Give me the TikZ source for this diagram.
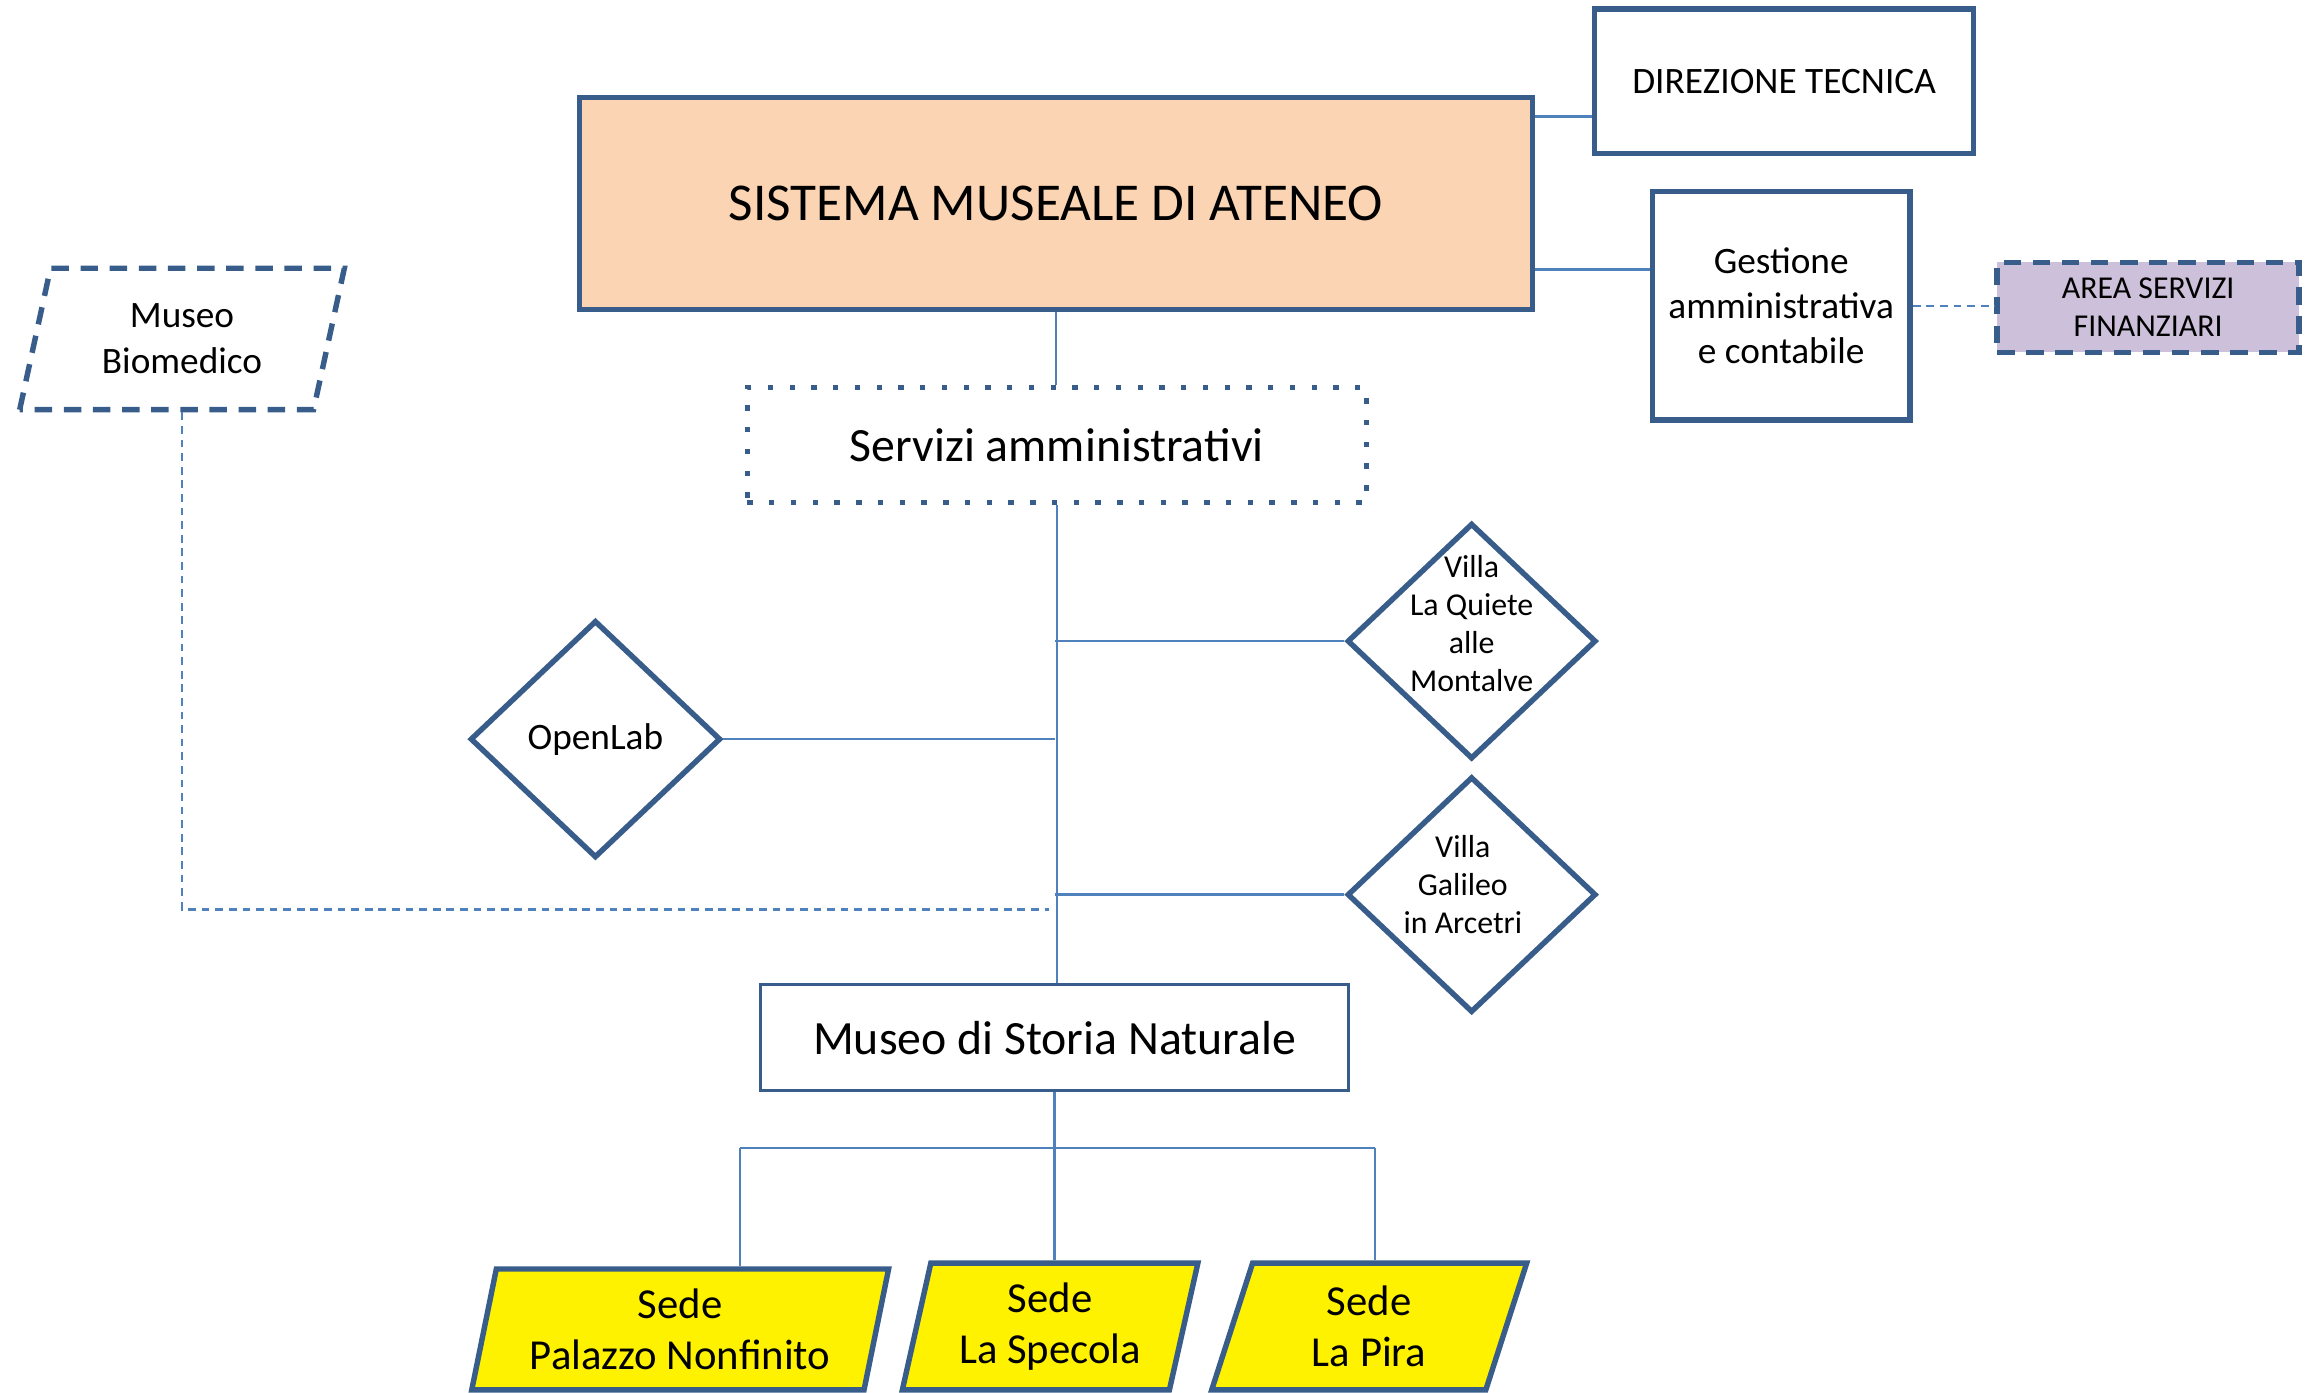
\documentclass[tikz,border=0pt]{standalone}
\usepackage{fontspec}
\setmainfont{Carlito}
\usepackage{tikz}
\usetikzlibrary{positioning}
\usetikzlibrary{calc}
\usetikzlibrary{shapes.geometric}

\definecolor{bordoBlu}{RGB}{56,93,138}
\definecolor{lineaBlu}{RGB}{79,129,189}
\definecolor{pesca}{RGB}{250,212,179}
\definecolor{lilla}{RGB}{204,192,218}

\tikzset{
	box/.style={draw=bordoBlu, line width=1.4pt, rectangle, align=center, inner sep=2pt},
	rombo/.style={draw=bordoBlu, line width=1.4pt, diamond, inner sep=0pt, align=center},
	sede/.style={draw=bordoBlu, line width=1.4pt, fill=yellow, trapezium,
		trapezium left angle=76, trapezium right angle=104, trapezium stretches=true,
		align=center, inner sep=0pt, font=\fontsize{11}{13}\selectfont},
	tratteggio/.style={dash pattern=on 4.5pt off 3pt},
	link/.style={draw=lineaBlu, line width=0.6pt},
	linkTratt/.style={link, dash pattern=on 2pt off 1.5pt}
}

\begin{document}
\begin{tikzpicture}[x=0.0133333cm, y=-0.0133333cm]
\useasboundingbox (0,0) rectangle (1568,945);

\node[
	box,
	fill=pesca,
	minimum width=8.627cm,
	minimum height=1.92cm,
	font=\fontsize{13.7}{16}\selectfont
] (main) at (716.5,138) {SISTEMA MUSEALE DI ATENEO};

\node[
	box,
	minimum width=3.427cm,
	minimum height=1.307cm,
	font=\fontsize{9.6}{11.5}\selectfont
] (direzione) at (1210.5,55) {DIREZIONE TECNICA};

\node[
	box,
	minimum width=2.333cm,
	minimum height=2.067cm,
	font=\fontsize{9.6}{11.5}\selectfont
] (gestione) at (1208.5,207.5) {Gestione\\amministrativa\\e contabile};

\node[
	box,
	tratteggio,
	fill=lilla,
	minimum width=2.733cm,
	minimum height=0.813cm,
	font=\fontsize{8.2}{9.6}\selectfont
] (area) at (1457.5,208.5) {AREA SERVIZI\\FINANZIARI};

\node[
	draw=bordoBlu,
	line width=1.4pt,
	tratteggio,
	trapezium,
	trapezium left angle=75,
	trapezium right angle=105,
	trapezium stretches=true,
	inner sep=0pt,
	align=center,
	minimum width=2.947cm,
	minimum height=1.28cm,
	font=\fontsize{9.6}{11.8}\selectfont
] (biomedico) at (123.5,230) {Museo\\Biomedico};

\node[
	box,
	dash pattern=on 1.4pt off 4.2pt,
	minimum width=5.6cm,
	minimum height=1.04cm,
	font=\fontsize{12.3}{14.5}\selectfont
] (servizi) at (717,302) {Servizi amministrativi};

\node[
	rombo,
	minimum width=2.267cm,
	minimum height=2.147cm,
	font=\fontsize{9.6}{11.5}\selectfont
] (openlab) at (404,501.5) {OpenLab};

\node[
	rombo,
	minimum width=2.253cm,
	minimum height=2.133cm,
	label={[font=\fontsize{8.2}{9.8}\selectfont, align=center, yshift=0.16cm]center:Villa\\La Quiete\\alle\\Montalve}
] (quiete) at (998.5,435) {};

\node[
	rombo,
	minimum width=2.253cm,
	minimum height=2.133cm,
	label={[font=\fontsize{8.2}{9.8}\selectfont, align=center, xshift=-0.08cm, yshift=0.09cm]center:Villa\\Galileo\\in Arcetri}
] (galileo) at (998.5,607) {};

\node[
	box,
	line width=0.8pt,
	minimum width=5.32cm,
	minimum height=0.96cm,
	font=\fontsize{12.3}{14.5}\selectfont
] (storia) at (715.5,704) {Museo di Storia Naturale};

\node[
	sede,
	minimum width=3.773cm,
	minimum height=1.093cm
] (palazzo) at (461.5,902) {Sede\\Palazzo Nonfinito};

\node[
	sede,
	minimum width=2.68cm,
	minimum height=1.147cm
] (specola) at (712.5,900) {Sede\\La Specola};

\node[
	sede,
	minimum width=2.853cm,
	minimum height=1.147cm
] (pira) at (929,900) {Sede\\La Pira};

\coordinate (giunto) at (712,617);
\coordinate (busSx) at (502,779);
\coordinate (busDx) at (933,779);

% --- vertice
\draw[link] ([yshift=-0.32cm]direzione.west) -- ([yshift=-0.32cm]direzione.west -| main.east);
\draw[link] ([yshift=0.33cm]gestione.west) -- ([yshift=0.33cm]gestione.west -| main.east);
\draw[linkTratt] (gestione.east) -- (gestione.east -| area.west);

% --- asse centrale
\draw[link] (main.south) -- (main.south |- servizi.north);
\draw[link] (servizi.south) -- (servizi.south |- storia.north);
\draw[link] (quiete.west) -- (quiete.west -| storia.north);
\draw[link] (openlab.east) -- (openlab.east -| storia.north);
\draw[link] (galileo.west) -- (galileo.west -| storia.north);
\draw[linkTratt] (biomedico.south) |- (giunto);

% --- sedi
\draw[link] (storia.south) -- (storia.south |- specola.north);
\draw[link] (busSx) -- (busDx);
\draw[link] (busSx) -- (busSx |- palazzo.north);
\draw[link] (busDx) -- (busDx |- pira.north);

\end{tikzpicture}
\end{document}
